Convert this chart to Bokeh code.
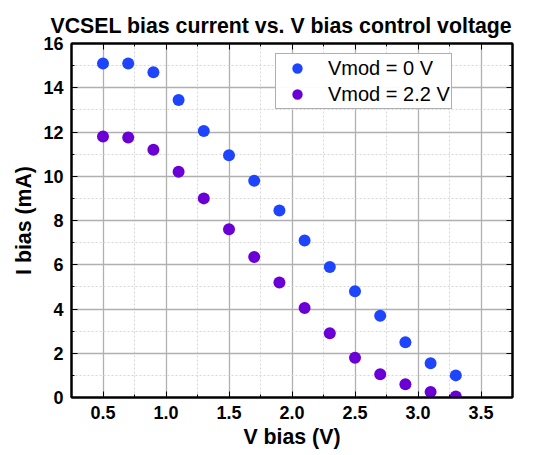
from bokeh.plotting import figure
from bokeh.models import (LinearAxis, Range1d, Legend, LegendItem, SingleIntervalTicker,
                          NumeralTickFormatter, CustomJSTickFormatter)
from bokeh.embed import file_html
from bokeh.resources import INLINE

v_bias = [0.5, 0.7, 0.9, 1.1, 1.3, 1.5, 1.7, 1.9, 2.1, 2.3, 2.5, 2.7, 2.9, 3.1, 3.3]
i_vmod0 = [15.1, 15.1, 14.7, 13.45, 12.05, 10.95, 9.8, 8.45, 7.1, 5.9, 4.8, 3.7, 2.5, 1.55, 1.0]
i_vmod22 = [11.8, 11.75, 11.2, 10.2, 9.0, 7.6, 6.35, 5.2, 4.05, 2.9, 1.8, 1.05, 0.6, 0.25, 0.05]
labels = ["Vmod = 0 V", "Vmod = 2.2 V"]
colors = ["#1f45fc", "#6a00d6"]

FONT = "Liberation Sans"

p = figure(width=542, height=455, output_backend="svg", toolbar_location=None,
           x_range=Range1d(0.25, 3.75), y_range=Range1d(0, 16),
           min_border_left=71, min_border_right=30, min_border_top=43, min_border_bottom=58,
           title="VCSEL bias current vs. V bias control voltage")
p.title.text_font = FONT
p.title.text_font_size = "21.3px"
p.title.text_font_style = "bold"
p.title.align = "left"
p.title.offset = -21
p.title.standoff = 12
p.title.text_color = "black"

p.outline_line_color = "black"
p.outline_line_width = 2

xt = SingleIntervalTicker(interval=0.5, num_minor_ticks=2)
yt = SingleIntervalTicker(interval=2, num_minor_ticks=2)

for ax in [p.xaxis[0], p.yaxis[0]]:
    ax.major_label_text_font = FONT
    ax.major_label_text_font_size = "18px"
    ax.major_label_text_font_style = "bold"
    ax.major_label_text_color = "black"
    ax.axis_label_text_font = FONT
    ax.axis_label_text_font_size = "21.3px"
    ax.axis_label_text_font_style = "bold"
    ax.axis_label_text_color = "black"
    ax.major_tick_in = 6
    ax.major_tick_out = 0
    ax.minor_tick_in = 3
    ax.minor_tick_out = 0
    ax.axis_line_color = "black"
    ax.axis_line_width = 2
    ax.major_tick_line_color = "black"
    ax.minor_tick_line_color = "black"

p.xaxis[0].ticker = xt
p.yaxis[0].ticker = yt
p.xaxis[0].axis_label = "V bias (V)"
p.yaxis[0].axis_label = "I bias (mA)"
p.xaxis[0].formatter = NumeralTickFormatter(format="0.0")
p.xaxis[0].major_label_standoff = 8
p.xaxis[0].axis_label_standoff = 3
p.yaxis[0].major_label_standoff = 8
p.yaxis[0].axis_label_standoff = 4

blank = CustomJSTickFormatter(code="return ''")
top = LinearAxis(ticker=xt, formatter=blank, major_tick_in=6, major_tick_out=0,
                 minor_tick_in=3, minor_tick_out=0, axis_line_width=2,
                 major_label_standoff=0, major_label_text_font_size="1px")
right = LinearAxis(ticker=yt, formatter=blank, major_tick_in=6, major_tick_out=0,
                   minor_tick_in=3, minor_tick_out=0, axis_line_width=2,
                   major_label_standoff=0, major_label_text_font_size="1px")
p.add_layout(top, "above")
p.add_layout(right, "right")

p.xgrid.ticker = xt
p.ygrid.ticker = yt
for g in [p.xgrid[0], p.ygrid[0]]:
    g.grid_line_color = "#b0b0b0"
    g.grid_line_width = 1.3
    g.minor_grid_line_color = "#d6d6d6"
    g.minor_grid_line_dash = "2 2"

r1 = p.scatter(v_bias, i_vmod0, size=12, color=colors[0], line_color=None)
r2 = p.scatter(v_bias, i_vmod22, size=12, color=colors[1], line_color=None)

legend = Legend(items=[LegendItem(label=labels[0], renderers=[r1]),
                       LegendItem(label=labels[1], renderers=[r2])],
                location=(204, 288))
legend.label_text_font = FONT
legend.label_text_font_size = "20px"
legend.label_text_color = "black"
legend.border_line_color = "#606060"
legend.border_line_width = 1
legend.padding = 1
legend.spacing = 0
legend.glyph_width = 40
legend.glyph_height = 26
legend.label_height = 26
legend.label_standoff = 11
legend.margin = 0
p.add_layout(legend, "center")

open("out.html", "w").write(file_html(p, INLINE))
